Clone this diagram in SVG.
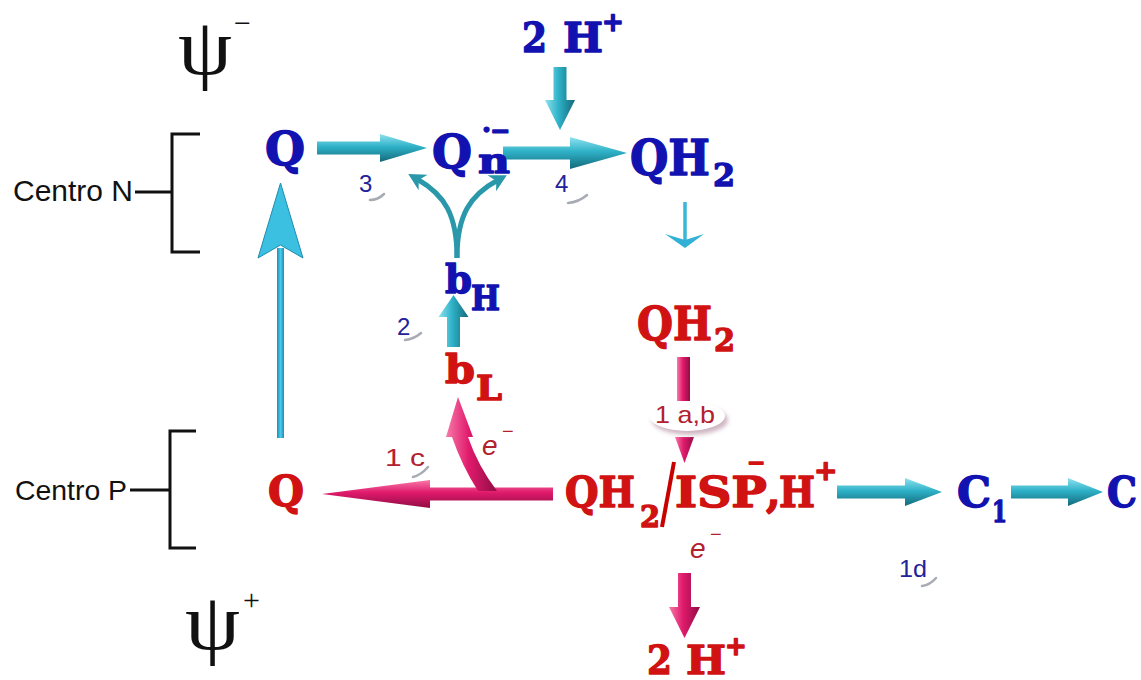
<svg xmlns="http://www.w3.org/2000/svg" width="1141" height="680" viewBox="0 0 1141 680">
<defs>
<linearGradient id="cyH" x1="0" y1="0" x2="0" y2="1">
<stop offset="0" stop-color="#8fe2ef"/><stop offset="0.45" stop-color="#2fb2c8"/><stop offset="1" stop-color="#14697a"/>
</linearGradient>
<linearGradient id="cyV" x1="0" y1="0" x2="1" y2="0">
<stop offset="0" stop-color="#8fe2ef"/><stop offset="0.45" stop-color="#2fb2c8"/><stop offset="1" stop-color="#14697a"/>
</linearGradient>
<linearGradient id="pkH" x1="0" y1="0" x2="0" y2="1">
<stop offset="0" stop-color="#f77aa8"/><stop offset="0.45" stop-color="#e01a6c"/><stop offset="1" stop-color="#900c44"/>
</linearGradient>
<linearGradient id="pkV" x1="0" y1="0" x2="1" y2="0">
<stop offset="0" stop-color="#f77aa8"/><stop offset="0.45" stop-color="#e01a6c"/><stop offset="1" stop-color="#900c44"/>
</linearGradient>
<linearGradient id="ltV" x1="0" y1="0" x2="1" y2="0">
<stop offset="0" stop-color="#1d8fb5"/><stop offset="0.5" stop-color="#4cc8ea"/><stop offset="1" stop-color="#1d8fb5"/>
</linearGradient>
<marker id="fork" viewBox="-8 -10 20 20" refX="0" refY="0" markerWidth="20" markerHeight="20" markerUnits="userSpaceOnUse" orient="auto">
<path d="M10,0 L-7,-9 L-2,0 L-7,9 Z" fill="#2a98aa"/>
</marker>
<filter id="blur" x="-30%" y="-30%" width="160%" height="160%"><feGaussianBlur stdDeviation="2"/></filter>
</defs>
<style>
.bs{font-family:'DejaVu Serif','Liberation Serif',serif;font-weight:bold;stroke-width:1.4;stroke-linejoin:round}
.bl{fill:#1212b0;stroke:#1212b0}
.rd{fill:#d01212;stroke:#d01212}
.sans{font-family:'Liberation Sans',Arial,sans-serif}
.psi{font-family:'Liberation Serif','Times New Roman',serif;fill:#111}
.lbl{font-family:'Liberation Sans',Arial,sans-serif;font-size:24px}
.lb{fill:#22229a}
.lr{fill:#b3202e}
.sw{fill:none;stroke:#8a8f99;stroke-width:2.5;stroke-linecap:round;opacity:.75}
.br{fill:none;stroke:#111;stroke-width:3}
.cy{fill:url(#cyH)}
.cyv{fill:url(#cyV)}
.pk{fill:url(#pkH)}
.pkv{fill:url(#pkV)}
.fk{fill:none;stroke:#2a98aa;stroke-width:5}
</style>
<rect width="1141" height="680" fill="#fff"/>

<g id="psi-minus">
<text class="psi" x="178" y="74" font-size="80" textLength="54" lengthAdjust="spacingAndGlyphs">ψ</text>
<text class="psi" x="234" y="33" font-size="30">−</text>
</g>
<g id="psi-plus">
<text class="psi" x="185" y="649" font-size="80" textLength="55" lengthAdjust="spacingAndGlyphs">ψ</text>
<text class="psi" x="243" y="610" font-size="30">+</text>
</g>

<g id="centro-n">
<text class="sans" x="13" y="201" font-size="29" fill="#111" textLength="120" lengthAdjust="spacingAndGlyphs">Centro N</text>
<path class="br" d="M135,192 H172 M200,134 H172 V252 H200"/>
</g>
<g id="centro-p">
<text class="sans" x="15" y="500" font-size="28" fill="#111" textLength="112" lengthAdjust="spacingAndGlyphs">Centro P</text>
<path class="br" d="M130,490 H170 M196,431 H170 V548 H196"/>
</g>

<g id="connectors">
<polygon class="cy" points="317,141.5 380,141.5 380,134 427,148 380,162 380,154.5 317,154.5"/>
<polygon class="cy" points="503,146.5 570,146.5 570,137 627,153 570,169 570,159.5 503,159.5"/>
<polygon class="cyv" points="553.5,67 566.5,67 566.5,100 575,100 560,130 545,100 553.5,100"/>
<path class="fk" d="M457,258 C457,215 445,195 417,179" marker-end="url(#fork)"/>
<path class="fk" d="M457,258 C457,215 470,195 498,180" marker-end="url(#fork)"/>
<polygon class="cyv" points="447,347 460,347 460,317 468.5,317 453.5,295 438.5,317 447,317"/>
<rect x="277" y="248" width="7" height="190" fill="url(#ltV)"/>
<path d="M280.5,183 L303,258 L280.5,245 L258,258 Z" fill="#3cc0e2" stroke="#1f8cb0" stroke-width="1"/>
<line x1="685" y1="202" x2="685" y2="240" stroke="#3ab6d8" stroke-width="3.5"/>
<path d="M665,234 L685,248 L704,234 L685,240 Z" fill="#33b0d6"/>
<rect x="677" y="357" width="13" height="44" class="pkv"/>
<polygon class="pkv" points="675,437 694,437 684.5,463"/>
<polygon class="pk" points="553,487.5 430,487.5 430,480 322,494 430,508 430,500.5 553,500.5"/>
<path class="pkv" d="M478,491 Q462,466 452,437 L446,437 L458,397 L473,437 L468,437 Q478,466 497,491 Z"/>
<polygon class="pkv" points="678,573 691,573 691,607 700,607 684.5,638 669,607 678,607"/>
<polygon class="cy" points="837,485.5 905,485.5 905,478 942,492 905,506 905,498.5 837,498.5"/>
<polygon class="cy" points="1011,485.5 1068,485.5 1068,478 1103,492 1068,506 1068,498.5 1011,498.5"/>
</g>

<g id="q-n">
<text class="bs bl" x="265" y="165" font-size="46" textLength="40" lengthAdjust="spacingAndGlyphs">Q</text>
</g>
<g id="qn">
<text class="bs bl" x="432" y="168" font-size="46" textLength="40" lengthAdjust="spacingAndGlyphs">Q</text>
<text class="bs bl" x="478" y="173" font-size="36" textLength="32" lengthAdjust="spacingAndGlyphs">n</text>
<text class="bs bl" x="482" y="139" font-size="26">·</text>
<text class="bs bl" x="490" y="139" font-size="24">−</text>
</g>
<g id="qh2-top">
<text class="bs bl" x="630" y="175" font-size="48" textLength="80" lengthAdjust="spacingAndGlyphs">QH</text>
<text class="bs bl" x="713" y="186" font-size="32" textLength="22" lengthAdjust="spacingAndGlyphs">2</text>
</g>
<g id="h-top">
<text class="bs bl" x="522" y="52" font-size="41" textLength="25" lengthAdjust="spacingAndGlyphs">2</text>
<text class="bs bl" x="563" y="52" font-size="41" textLength="40" lengthAdjust="spacingAndGlyphs">H</text>
<text class="bs bl" x="602" y="31" font-size="26">+</text>
</g>
<g id="bh">
<text class="bs bl" x="445" y="293" font-size="40" textLength="27" lengthAdjust="spacingAndGlyphs">b</text>
<text class="bs bl" x="471" y="310" font-size="34" textLength="29" lengthAdjust="spacingAndGlyphs">H</text>
</g>
<g id="bl">
<text class="bs rd" x="445" y="383" font-size="40" textLength="30" lengthAdjust="spacingAndGlyphs">b</text>
<text class="bs rd" x="476" y="400" font-size="34" textLength="26" lengthAdjust="spacingAndGlyphs">L</text>
</g>
<g id="qh2-mid">
<text class="bs rd" x="637" y="340" font-size="47" textLength="75" lengthAdjust="spacingAndGlyphs">QH</text>
<text class="bs rd" x="714" y="351" font-size="32" textLength="21" lengthAdjust="spacingAndGlyphs">2</text>
</g>
<g id="q-p">
<text class="bs rd" x="268" y="506" font-size="42" textLength="36" lengthAdjust="spacingAndGlyphs">Q</text>
</g>
<g id="qh2-isp">
<text class="bs rd" x="565" y="507" font-size="42" textLength="70" lengthAdjust="spacingAndGlyphs">QH</text>
<text class="bs rd" x="640" y="527" font-size="30" textLength="20" lengthAdjust="spacingAndGlyphs">2</text>
<line x1="674" y1="462" x2="662" y2="527" stroke="#c80000" stroke-width="4"/>
<text class="bs rd" x="675" y="507" font-size="42" textLength="92" lengthAdjust="spacingAndGlyphs">ISP</text>
<text class="bs rd" x="747" y="470" font-size="22">−</text>
<text class="bs rd" x="766" y="507" font-size="42">,</text>
<text class="bs rd" x="779" y="507" font-size="42" textLength="36" lengthAdjust="spacingAndGlyphs">H</text>
<text class="bs rd" x="814" y="480" font-size="28">+</text>
</g>
<g id="c1">
<text class="bs bl" x="957" y="507" font-size="42" textLength="34" lengthAdjust="spacingAndGlyphs">C</text>
<text class="bs bl" x="992" y="522" font-size="30" textLength="15" lengthAdjust="spacingAndGlyphs">1</text>
</g>
<g id="c">
<text class="bs bl" x="1107" y="507" font-size="42" textLength="30" lengthAdjust="spacingAndGlyphs">C</text>
</g>
<g id="h-bottom">
<text class="bs rd" x="647" y="674" font-size="40" textLength="25" lengthAdjust="spacingAndGlyphs">2</text>
<text class="bs rd" x="686" y="674" font-size="40" textLength="40" lengthAdjust="spacingAndGlyphs">H</text>
<text class="bs rd" x="725" y="655" font-size="26">+</text>
</g>

<g id="labels">
<text class="lbl lb" x="359" y="192">3</text>
<path class="sw" d="M370,200 Q378,200 384,194"/>
<text class="lbl lb" x="555" y="192">4</text>
<path class="sw" d="M568,203 Q579,202 587,195"/>
<text class="lbl lb" x="397" y="335" font-size="21">2</text>
<path class="sw" d="M405,340 Q414,339 421,333"/>
<text class="lbl lr" x="385" y="466" textLength="40" lengthAdjust="spacingAndGlyphs">1 c</text>
<path class="sw" d="M413,477 Q421,475 428,467"/>
<text class="lbl lb" x="899" y="577" textLength="28" lengthAdjust="spacingAndGlyphs">1d</text>
<path class="sw" d="M922,586 Q930,585 936,578"/>
<ellipse cx="690" cy="420" rx="38" ry="15" fill="#cfb6c2" filter="url(#blur)"/>
<ellipse cx="687" cy="416" rx="38" ry="15" fill="#fff"/>
<text class="lbl lr" x="655" y="423" font-size="22" textLength="60" lengthAdjust="spacingAndGlyphs">1 a,b</text>
<text class="sans lr" x="482" y="455" font-size="28" font-style="italic">e</text>
<text class="sans lr" x="502" y="438" font-size="20">−</text>
<text class="sans lr" x="690" y="558" font-size="28" font-style="italic">e</text>
<text class="sans lr" x="710" y="541" font-size="20">−</text>
</g>
</svg>
